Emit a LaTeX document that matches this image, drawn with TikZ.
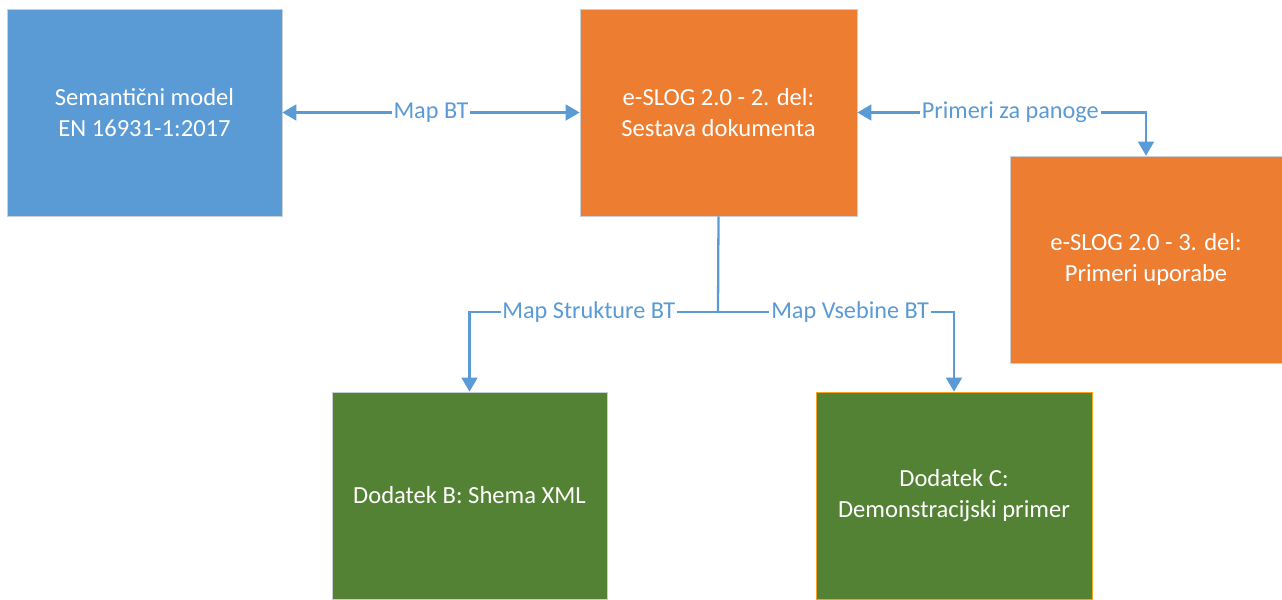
\documentclass[tikz,border=0pt]{standalone}
\usepackage{fontspec}
\setmainfont{Carlito}
\usetikzlibrary{arrows.meta}
\definecolor{mdblue}{HTML}{5B9BD5}
\definecolor{mdorange}{HTML}{ED7D31}
\definecolor{mdgreen}{HTML}{548235}
\definecolor{mdedge}{HTML}{C9CED6}

\begin{document}
\begin{tikzpicture}[
    x=0.02cm, y=-0.02cm,
    block/.style={rectangle, draw=mdedge, line width=0.4pt, text=white, align=center, minimum height=4.14cm, font=\fontsize{14}{17.5}\selectfont},
    link/.style={draw=mdblue, line width=1.3pt, >={Triangle[length=8pt, width=9pt]}},
    tag/.style={fill=white, text=mdblue, inner sep=1pt, font=\fontsize{13.8}{15}\selectfont}
]
\useasboundingbox (0,0) rectangle (1282,599);

% Blocks
\node[block, fill=mdblue, minimum width=5.5cm] (model) at (144.5,112.5) {Semantični model\\EN 16931-1:2017};
\node[block, fill=mdorange, minimum width=5.54cm] (del2) at (718.5,112.5) {e-SLOG 2.0 - 2. del:\\Sestava dokumenta};
\node[block, fill=mdorange, minimum width=5.44cm] (del3) at (1146,259.5) {e-SLOG 2.0 - 3. del:\\Primeri uporabe};
\node[block, fill=mdgreen, minimum width=5.5cm] (dodb) at (469.5,495.5) {Dodatek B: Shema XML};
\node[block, fill=mdgreen, draw=mdorange!70!yellow, minimum width=5.52cm] (dodc) at (954,495.5) {Dodatek C:\\Demonstracijski primer};

% Links
\coordinate (split) at (718,312);
\draw[link, <->] (model) -- (del2) node[tag, pos=0.5] {Map BT};
\draw[link, <->] (del2.east) -- node[tag, pos=0.53] {Primeri za panoge} (del3.north |- del2.east) -- (del3.north);
\draw[link] (del2.south) -- (split);
\draw[link, ->] (split) -- node[tag, pos=0.52] {Map Strukture BT} (split -| dodb.north) -- (dodb.north);
\draw[link, ->] (split) -- node[tag, pos=0.56] {Map Vsebine BT} (split -| dodc.north) -- (dodc.north);

\end{tikzpicture}
\end{document}
